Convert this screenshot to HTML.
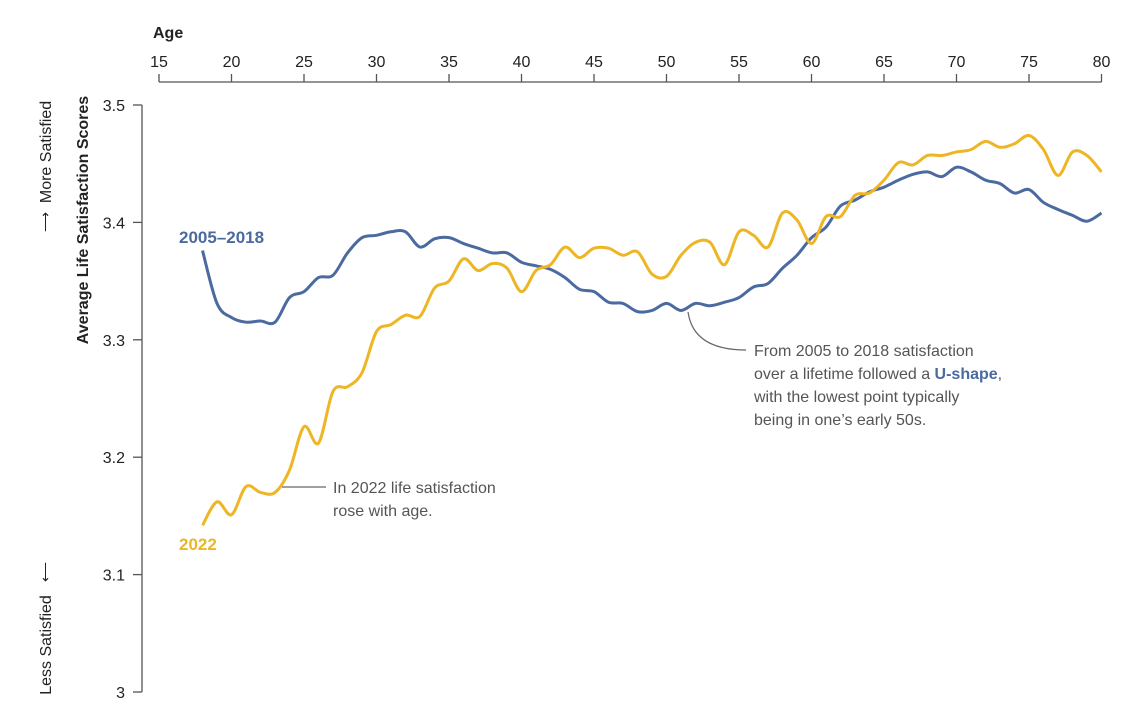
<!DOCTYPE html>
<html><head><meta charset="utf-8"><style>
body{margin:0;background:#fff;}
svg{display:block;font-family:"Liberation Sans",sans-serif;}
</style></head><body>
<svg id="chart" width="1148" height="720">
<g id="axes"></g>
<g id="series"></g>
<g id="labels">
<text x="153" y="38" font-size="16" font-weight="bold" fill="#222">Age</text>
<text transform="translate(88,220) rotate(-90)" text-anchor="middle" font-size="16" font-weight="bold" fill="#222">Average Life Satisfaction Scores</text>
<text transform="translate(51,152) rotate(-90)" text-anchor="middle" font-size="16" fill="#222">More Satisfied</text>
<text transform="translate(50,222) rotate(-90)" text-anchor="middle" font-size="14" fill="#222">⟶</text>
<text transform="translate(51,645) rotate(-90)" text-anchor="middle" font-size="16" fill="#222">Less Satisfied</text>
<text transform="translate(50,572) rotate(-90)" text-anchor="middle" font-size="14" fill="#222">⟵</text>
<text x="179" y="243" font-size="17" font-weight="bold" fill="#4a6aa0">2005–2018</text>
<text x="179" y="550" font-size="17" font-weight="bold" fill="#eeb524">2022</text>
<path d="M282 487 H326" stroke="#666" stroke-width="1.2" fill="none"/>
<text font-size="16" fill="#555"><tspan x="333" y="493">In 2022 life satisfaction</tspan><tspan x="333" y="516">rose with age.</tspan></text>
<path d="M688 312 C692 340 715 350 746 350" stroke="#666" stroke-width="1.2" fill="none"/>
<text font-size="16" fill="#555"><tspan x="754" y="356">From 2005 to 2018 satisfaction</tspan><tspan x="754" y="379">over a lifetime followed a <tspan font-weight="bold" fill="#4a6aa0">U-shape</tspan>,</tspan><tspan x="754" y="402">with the lowest point typically</tspan><tspan x="754" y="425">being in one’s early 50s.</tspan></text>
</g>
</svg>
<script>
const ages = [18,19,20,21,22,23,24,25,26,27,28,29,30,31,32,33,34,35,36,37,38,39,40,41,42,43,44,45,46,47,48,49,50,51,52,53,54,55,56,57,58,59,60,61,62,63,64,65,66,67,68,69,70,71,72,73,74,75,76,77,78,79,80];
const series2005 = [3.376,3.331,3.319,3.315,3.316,3.315,3.336,3.341,3.353,3.355,3.374,3.387,3.389,3.392,3.392,3.379,3.386,3.387,3.382,3.378,3.374,3.374,3.366,3.363,3.360,3.353,3.343,3.341,3.332,3.331,3.324,3.325,3.331,3.325,3.331,3.329,3.332,3.336,3.345,3.348,3.361,3.372,3.387,3.396,3.414,3.419,3.426,3.430,3.436,3.441,3.443,3.439,3.447,3.443,3.436,3.433,3.425,3.428,3.417,3.411,3.406,3.401,3.408];
const series2022 = [3.142,3.162,3.151,3.175,3.170,3.170,3.189,3.226,3.212,3.256,3.260,3.272,3.307,3.313,3.321,3.320,3.344,3.350,3.369,3.359,3.365,3.361,3.341,3.359,3.364,3.379,3.370,3.378,3.378,3.372,3.375,3.356,3.354,3.372,3.383,3.383,3.364,3.392,3.389,3.379,3.408,3.402,3.382,3.405,3.405,3.423,3.425,3.436,3.451,3.449,3.457,3.457,3.460,3.462,3.469,3.464,3.467,3.474,3.462,3.440,3.460,3.457,3.443];
const xTicks = [15,20,25,30,35,40,45,50,55,60,65,70,75,80];
const yTicks = [3,3.1,3.2,3.3,3.4,3.5];
const yTickLabels = ["3","3.1","3.2","3.3","3.4","3.5"];

const NS="http://www.w3.org/2000/svg";
const X = a => 159 + (a-15)*(1101.5-159)/65;
const Y = v => 692 - (v-3)*(692-105)/0.5;
function mk(tag, attrs, parent){const e=document.createElementNS(NS,tag);for(const k in attrs)e.setAttribute(k,attrs[k]);parent.appendChild(e);return e;}
const axes=document.getElementById('axes'), ser=document.getElementById('series');
let xl=mk('line',{x1:X(15),x2:X(80),y1:82,y2:82,stroke:'#555','stroke-width':1.3},axes);


xTicks.forEach(t=>{
  const tk=mk('line',{x1:X(t),x2:X(t),y1:74,y2:82,stroke:'#555','stroke-width':1.3},axes);
  
  
  const tx=mk('text',{x:X(t),y:67,'text-anchor':'middle','font-size':16,fill:'#222'},axes);
  tx.textContent=t;
  
  
});
let yl=mk('line',{x1:142,x2:142,y1:Y(3.5),y2:Y(3),stroke:'#555','stroke-width':1.3},axes);


yTicks.forEach((t,i)=>{
  const tk=mk('line',{x1:133,x2:142,y1:Y(t),y2:Y(t),stroke:'#555','stroke-width':1.3},axes);
  
  
  const tx=mk('text',{x:125,y:Y(t)+6,'text-anchor':'end','font-size':16,fill:'#222'},axes);
  tx.textContent=yTickLabels[i];
  
  
});
function smooth(vals){
  const p=vals.map((v,i)=>[X(ages[i]),Y(v)]);
  let d='M'+p[0][0]+' '+p[0][1];
  for(let i=0;i<p.length-1;i++){
    const p0=p[i-1]||p[i],p1=p[i],p2=p[i+1],p3=p[i+2]||p2;
    const c1=[p1[0]+(p2[0]-p0[0])/6,p1[1]+(p2[1]-p0[1])/6];
    const c2=[p2[0]-(p3[0]-p1[0])/6,p2[1]-(p3[1]-p1[1])/6];
    d+=` C${c1[0]} ${c1[1]} ${c2[0]} ${c2[1]} ${p2[0]} ${p2[1]}`;
  }
  return d;
}
const l1=mk('path',{d:smooth(series2005),fill:'none',stroke:'#4a6aa0','stroke-width':3,'stroke-linejoin':'round'},ser);


const l2=mk('path',{d:smooth(series2022),fill:'none',stroke:'#eeb524','stroke-width':3,'stroke-linejoin':'round'},ser);


</script>
</body></html>
